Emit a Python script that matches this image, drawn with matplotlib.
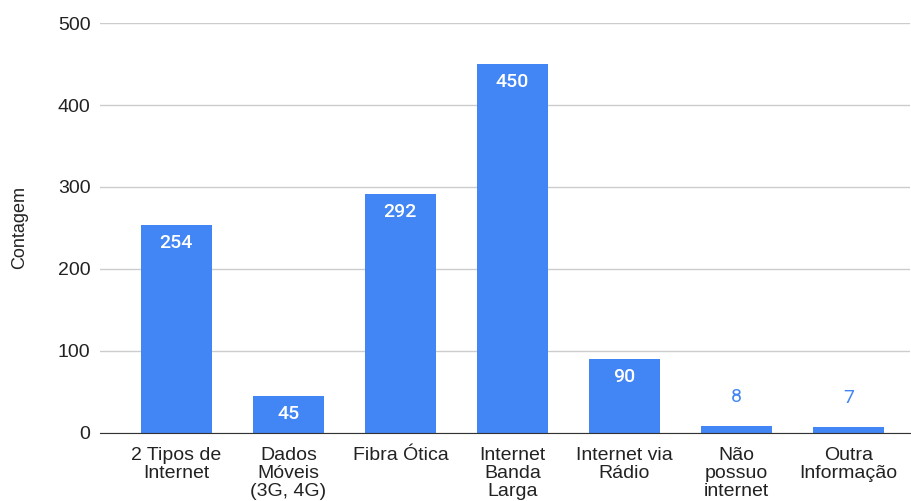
import matplotlib.pyplot as plt

categorias = ["2 Tipos de\nInternet", "Dados\nMóveis\n(3G, 4G)", "Fibra Ótica",
              "Internet\nBanda\nLarga", "Internet via\nRádio", "Não\npossuo\ninternet",
              "Outra\nInformação"]
contagem = [254, 45, 292, 450, 90, 8, 7]

azul = "#4285F4"
plt.rcParams['font.family'] = ['Liberation Sans', 'DejaVu Sans']

fig = plt.figure(figsize=(9.11, 5.01), dpi=100)
ax = fig.add_axes([0.11, 0.136, 0.889, 0.818])

x = range(len(categorias))
ax.bar(x, contagem, width=0.64, color=azul, zorder=3)

for i, v in zip(x, contagem):
    if v > 30:
        ax.annotate(str(v), (i, v), xytext=(0, -13), textcoords='offset points',
                    ha='center', va='center', color='white', fontsize=14,
                    family='Roboto', fontweight='medium', zorder=4)
    else:
        ax.annotate(str(v), (i, v), xytext=(0, 21), textcoords='offset points',
                    ha='center', va='center', color=azul, fontsize=14,
                    family='Roboto', zorder=4)

ax.set_xlim(-0.68, 6.55)
ax.set_ylim(0, 500)
ax.set_yticks([0, 100, 200, 300, 400, 500])
ax.set_xticks(list(x))
ax.set_xticklabels(categorias, fontsize=14, color='#222222', linespacing=1.1)
ax.tick_params(axis='y', labelsize=14, colors='#222222', length=0, pad=7)
ax.tick_params(axis='x', length=0, pad=10)
ax.yaxis.grid(True, color='#cccccc', linewidth=1, zorder=0)
for s in ['top', 'right', 'left']:
    ax.spines[s].set_visible(False)
ax.spines['bottom'].set_color('#333333')
ax.spines['bottom'].set_zorder(5)
ax.set_ylabel('Contagem', fontsize=13, color='#222222', labelpad=21)

plt.savefig('out.png', dpi=100)
